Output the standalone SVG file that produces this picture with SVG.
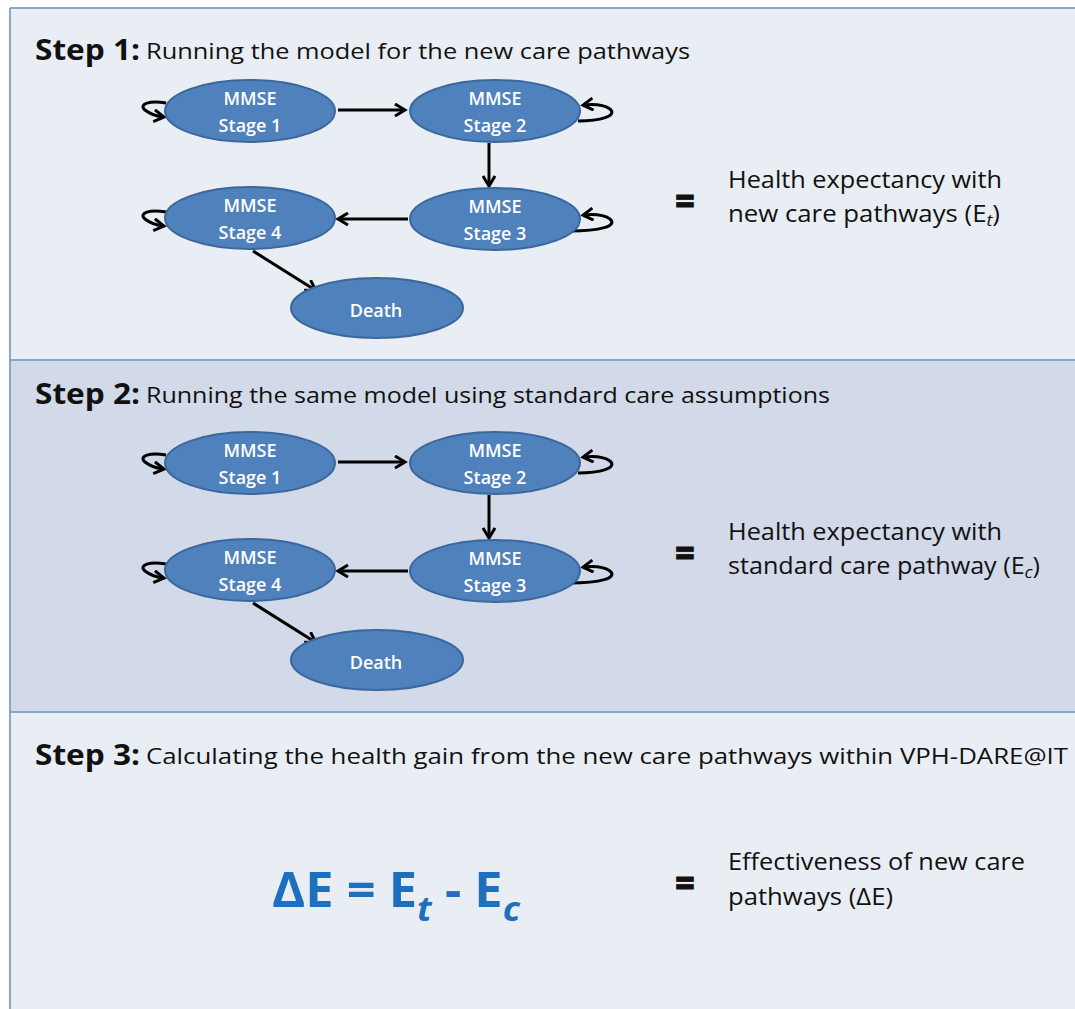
<svg xmlns="http://www.w3.org/2000/svg" width="1075" height="1009" viewBox="0 0 1075 1009">
<defs>
<style>
.node{fill:#4f81bd;stroke:#3b679c;stroke-width:2}
.nt{font-family:"Open Sans","Liberation Sans",sans-serif;font-size:18px;fill:#fff;text-anchor:middle;font-weight:600}
.hd{font-family:"Open Sans","Liberation Sans",sans-serif;font-size:28px;font-weight:bold;fill:#111}
.sub{font-family:"Open Sans","Liberation Sans",sans-serif;font-size:22px;fill:#111}
.desc{font-family:"Open Sans","Liberation Sans",sans-serif;font-size:23px;fill:#111}
.eq{font-family:"Open Sans","Liberation Sans",sans-serif;font-size:34px;font-weight:800;fill:#111;stroke:#111;stroke-width:0.8}
.edge{stroke:#000;stroke-width:3;fill:none}
.formula{font-family:"Open Sans","Liberation Sans",sans-serif;font-weight:bold;fill:#1f6fc0}
</style>
<marker id="ah" markerWidth="14" markerHeight="14" refX="10" refY="7" orient="auto" markerUnits="userSpaceOnUse">
<path d="M1,1 L11,7 L1,13" fill="none" stroke="#000" stroke-width="3"/>
</marker>
</defs>
<rect x="0" y="0" width="1075" height="1009" fill="#ffffff"/>
<rect x="10" y="8" width="1065" height="352" fill="#e9eef4"/>
<rect x="10" y="360" width="1065" height="352" fill="#d2d9e8"/>
<rect x="10" y="712" width="1065" height="297" fill="#e9eef4"/>
<g stroke="#8aa6cc" stroke-width="2">
<line x1="10" y1="8" x2="1075" y2="8"/>
<line x1="10" y1="8" x2="10" y2="1009"/>
<line x1="10" y1="360" x2="1075" y2="360"/>
<line x1="10" y1="712" x2="1075" y2="712"/>
</g>

<g id="step1">
<text class="hd" x="35" y="60" textLength="105" lengthAdjust="spacingAndGlyphs">Step 1:</text>
<text class="sub" x="146" y="59" textLength="544" lengthAdjust="spacingAndGlyphs">Running the model for the new care pathways</text>
<g id="p1-connectors">
<line class="edge" x1="338" y1="110" x2="404" y2="110" marker-end="url(#ah)"/>
<line class="edge" x1="489" y1="143" x2="489" y2="185" marker-end="url(#ah)"/>
<line class="edge" x1="408" y1="219" x2="339" y2="219" marker-end="url(#ah)"/>
<line class="edge" x1="253" y1="251" x2="315" y2="290" marker-end="url(#ah)"/>
<path class="edge" d="M166,103 C150,100 138,104 145,110 C150,114 156,116 163,117" marker-end="url(#ah)"/>
<path class="edge" d="M578,121 C600,121 618,116 610,109 C604,105 594,104 584,105" marker-end="url(#ah)"/>
<path class="edge" d="M166,212 C150,209 138,213 145,219 C150,223 156,225 163,226" marker-end="url(#ah)"/>
<path class="edge" d="M570,231 C600,231 618,226 610,219 C604,215 594,214 584,215" marker-end="url(#ah)"/>
</g>
<g id="p1-s1"><ellipse class="node" cx="250" cy="111" rx="85" ry="31"/><text class="nt" x="250" y="105">MMSE</text><text class="nt" x="250" y="132">Stage 1</text></g>
<g id="p1-s2"><ellipse class="node" cx="495" cy="111" rx="85" ry="31"/><text class="nt" x="495" y="105">MMSE</text><text class="nt" x="495" y="132">Stage 2</text></g>
<g id="p1-s3"><ellipse class="node" cx="495" cy="219" rx="85" ry="31"/><text class="nt" x="495" y="213">MMSE</text><text class="nt" x="495" y="240">Stage 3</text></g>
<g id="p1-s4"><ellipse class="node" cx="250" cy="218" rx="85" ry="31"/><text class="nt" x="250" y="212">MMSE</text><text class="nt" x="250" y="239">Stage 4</text></g>
<g id="p1-death"><ellipse class="node" cx="377" cy="308" rx="86" ry="30"/><text class="nt" x="376" y="317">Death</text></g>
<text class="eq" x="675" y="213">=</text>
<text class="desc" x="728" y="188" textLength="274" lengthAdjust="spacingAndGlyphs">Health expectancy with</text>
<text class="desc" x="728" y="222" textLength="272" lengthAdjust="spacingAndGlyphs">new care pathways (E<tspan font-size="16" font-style="italic" dy="4">t</tspan><tspan dy="-4">)</tspan></text>
</g>

<g id="step2">
<text class="hd" x="35" y="404" textLength="105" lengthAdjust="spacingAndGlyphs">Step 2:</text>
<text class="sub" x="146" y="403" textLength="684" lengthAdjust="spacingAndGlyphs">Running the same model using standard care assumptions</text>
<g id="p2-connectors">
<line class="edge" x1="338" y1="462" x2="404" y2="462" marker-end="url(#ah)"/>
<line class="edge" x1="489" y1="495" x2="489" y2="537" marker-end="url(#ah)"/>
<line class="edge" x1="408" y1="571" x2="339" y2="571" marker-end="url(#ah)"/>
<line class="edge" x1="253" y1="603" x2="315" y2="642" marker-end="url(#ah)"/>
<path class="edge" d="M166,455 C150,452 138,456 145,462 C150,466 156,468 163,469" marker-end="url(#ah)"/>
<path class="edge" d="M578,473 C600,473 618,468 610,461 C604,457 594,456 584,457" marker-end="url(#ah)"/>
<path class="edge" d="M166,564 C150,561 138,565 145,571 C150,575 156,577 163,578" marker-end="url(#ah)"/>
<path class="edge" d="M570,583 C600,583 618,578 610,571 C604,567 594,566 584,567" marker-end="url(#ah)"/>
</g>
<g id="p2-s1"><ellipse class="node" cx="250" cy="463" rx="85" ry="31"/><text class="nt" x="250" y="457">MMSE</text><text class="nt" x="250" y="484">Stage 1</text></g>
<g id="p2-s2"><ellipse class="node" cx="495" cy="463" rx="85" ry="31"/><text class="nt" x="495" y="457">MMSE</text><text class="nt" x="495" y="484">Stage 2</text></g>
<g id="p2-s3"><ellipse class="node" cx="495" cy="571" rx="85" ry="31"/><text class="nt" x="495" y="565">MMSE</text><text class="nt" x="495" y="592">Stage 3</text></g>
<g id="p2-s4"><ellipse class="node" cx="250" cy="570" rx="85" ry="31"/><text class="nt" x="250" y="564">MMSE</text><text class="nt" x="250" y="591">Stage 4</text></g>
<g id="p2-death"><ellipse class="node" cx="377" cy="660" rx="86" ry="30"/><text class="nt" x="376" y="669">Death</text></g>
<text class="eq" x="675" y="565">=</text>
<text class="desc" x="728" y="540" textLength="274" lengthAdjust="spacingAndGlyphs">Health expectancy with</text>
<text class="desc" x="728" y="574" textLength="312" lengthAdjust="spacingAndGlyphs">standard care pathway (E<tspan font-size="16" font-style="italic" dy="4">c</tspan><tspan dy="-4">)</tspan></text>
</g>

<g id="step3">
<text class="hd" x="35" y="765" textLength="105" lengthAdjust="spacingAndGlyphs">Step 3:</text>
<text class="sub" x="146" y="764" textLength="922" lengthAdjust="spacingAndGlyphs">Calculating the health gain from the new  care pathways within VPH-DARE@IT</text>
<text class="formula" font-size="48" x="272" y="907" textLength="248" lengthAdjust="spacingAndGlyphs">ΔE = E<tspan font-size="34" font-style="italic" dy="14">t</tspan><tspan dy="-14"> - E</tspan><tspan font-size="34" font-style="italic" dy="14">c</tspan></text>
<text class="eq" x="675" y="895">=</text>
<text class="desc" x="728" y="870" textLength="297" lengthAdjust="spacingAndGlyphs">Effectiveness of new care</text>
<text class="desc" x="728" y="905" textLength="165" lengthAdjust="spacingAndGlyphs">pathways (ΔE)</text>
</g>
</svg>
